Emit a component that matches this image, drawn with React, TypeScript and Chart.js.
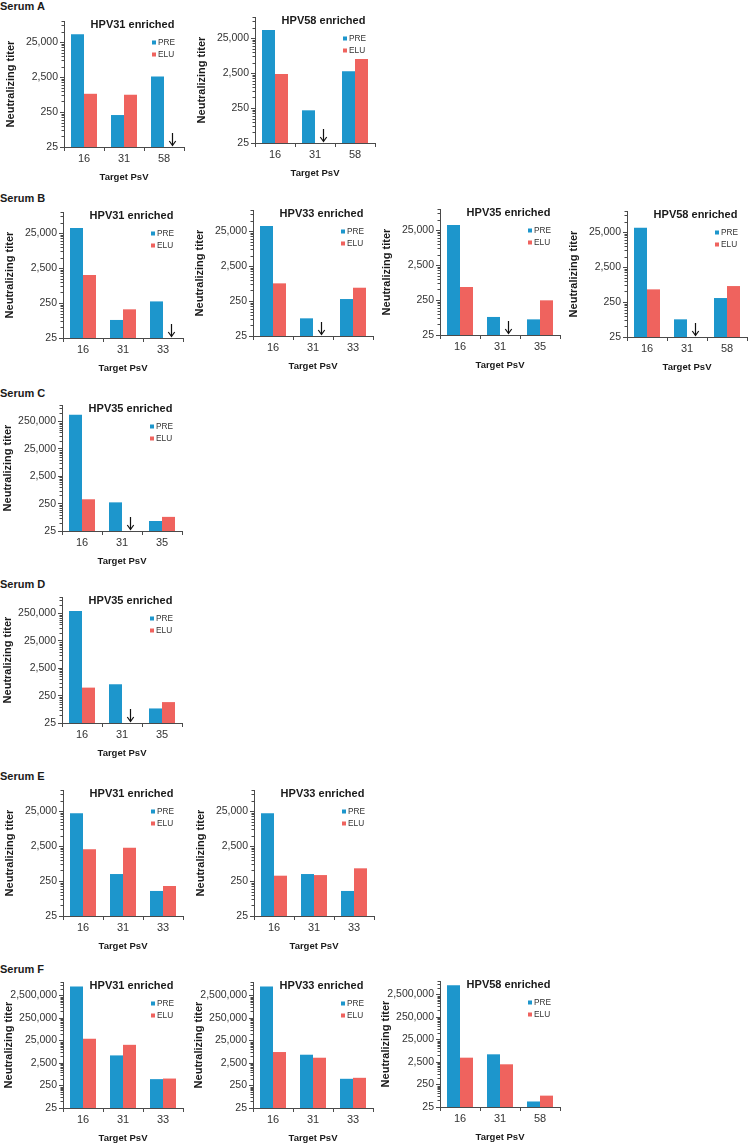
import React, { useEffect, useRef } from 'react';
import { Chart, registerables } from 'chart.js';

Chart.register(...registerables);

const FONT = '"Liberation Sans", Arial, Helvetica, sans-serif';
const PRE_COLOR = 'rgb(29,150,204)';
const ELU_COLOR = 'rgb(239,99,94)';
const AXIS_COLOR = '#4a4a4a';
const TEXT_COLOR = '#333333';
const TITLE_COLOR = '#1a1a1a';

// ---- tick labels (major ticks of the log axes) ----
const ticksLow = [25, 250, 2500, 25000];
const ticksMid = [25, 250, 2500, 25000, 250000];
const ticksHigh = [25, 250, 2500, 25000, 250000, 2500000];
const maxLow = 100000;
const maxMid = 1000000;
const maxHigh = 10000000;

const seriesNames = ['PRE', 'ELU'];
const yAxisTitle = 'Neutralizing titer';
const xAxisTitle = 'Target PsV';

// ---- data (null = below detection, shown by an arrow) ----
const aHpv31Cats = ['16', '31', '58'];
const aHpv31Pre = [41500, 205, 2600];
const aHpv31Elu = [830, 780, null];

const aHpv58Cats = ['16', '31', '58'];
const aHpv58Pre = [42500, 215, 2800];
const aHpv58Elu = [2330, null, 6300];

const bHpv31Cats = ['16', '31', '33'];
const bHpv31Pre = [34700, 82, 278];
const bHpv31Elu = [1580, 165, null];

const bHpv33Cats = ['16', '31', '33'];
const bHpv33Pre = [34700, 80, 285];
const bHpv33Elu = [800, null, 600];

const bHpv35Cats = ['16', '31', '35'];
const bHpv35Pre = [34700, 82, 70];
const bHpv35Elu = [590, null, 245];

const bHpv58Cats = ['16', '31', '58'];
const bHpv58Pre = [33000, 80, 325];
const bHpv58Elu = [575, null, 715];

const cHpv35Cats = ['16', '31', '35'];
const cHpv35Pre = [440000, 278, 58];
const cHpv35Elu = [360, null, 82];

const dHpv35Cats = ['16', '31', '35'];
const dHpv35Pre = [310000, 650, 85];
const dHpv35Elu = [490, null, 145];

const eHpv31Cats = ['16', '31', '33'];
const eHpv31Pre = [21500, 396, 130];
const eHpv31Elu = [2010, 2240, 180];

const eHpv33Cats = ['16', '31', '33'];
const eHpv33Pre = [21500, 396, 130];
const eHpv33Elu = [355, 370, 577];

const fHpv31Cats = ['16', '31', '33'];
const fHpv31Pre = [6300000, 5450, 480];
const fHpv31Elu = [29800, 16100, 510];

const fHpv33Cats = ['16', '31', '33'];
const fHpv33Pre = [6300000, 5850, 497];
const fHpv33Elu = [7700, 4300, 550];

const fHpv58Cats = ['16', '31', '58'];
const fHpv58Pre = [6500000, 5500, 44];
const fHpv58Elu = [3900, 1980, 80];

// ---- panel definitions (layout kept separate from data) ----
type PanelDef = {
  title: string;
  cats: string[];
  pre: (number | null)[];
  elu: (number | null)[];
  majors: number[];
  max: number;
  x: number; // y-axis position
  base: number; // x-axis position
  titlePad: number;
};

const panels: PanelDef[] = [
  { title: 'HPV31 enriched', cats: aHpv31Cats, pre: aHpv31Pre, elu: aHpv31Elu, majors: ticksLow, max: maxLow, x: 64, base: 147, titlePad: 4.4 },
  { title: 'HPV58 enriched', cats: aHpv58Cats, pre: aHpv58Pre, elu: aHpv58Elu, majors: ticksLow, max: maxLow, x: 255, base: 143, titlePad: 4.4 },
  { title: 'HPV31 enriched', cats: bHpv31Cats, pre: bHpv31Pre, elu: bHpv31Elu, majors: ticksLow, max: maxLow, x: 63, base: 338, titlePad: 4.4 },
  { title: 'HPV33 enriched', cats: bHpv33Cats, pre: bHpv33Pre, elu: bHpv33Elu, majors: ticksLow, max: maxLow, x: 253, base: 336, titlePad: 4.4 },
  { title: 'HPV35 enriched', cats: bHpv35Cats, pre: bHpv35Pre, elu: bHpv35Elu, majors: ticksLow, max: maxLow, x: 440, base: 335, titlePad: 4.4 },
  { title: 'HPV58 enriched', cats: bHpv58Cats, pre: bHpv58Pre, elu: bHpv58Elu, majors: ticksLow, max: maxLow, x: 627, base: 337, titlePad: 4.4 },
  { title: 'HPV35 enriched', cats: cHpv35Cats, pre: cHpv35Pre, elu: cHpv35Elu, majors: ticksMid, max: maxMid, x: 62, base: 531, titlePad: 2.9 },
  { title: 'HPV35 enriched', cats: dHpv35Cats, pre: dHpv35Pre, elu: dHpv35Elu, majors: ticksMid, max: maxMid, x: 62, base: 723, titlePad: 2.9 },
  { title: 'HPV31 enriched', cats: eHpv31Cats, pre: eHpv31Pre, elu: eHpv31Elu, majors: ticksLow, max: maxLow, x: 63, base: 916, titlePad: 4.4 },
  { title: 'HPV33 enriched', cats: eHpv33Cats, pre: eHpv33Pre, elu: eHpv33Elu, majors: ticksLow, max: maxLow, x: 254, base: 916, titlePad: 4.4 },
  { title: 'HPV31 enriched', cats: fHpv31Cats, pre: fHpv31Pre, elu: fHpv31Elu, majors: ticksHigh, max: maxHigh, x: 63, base: 1108, titlePad: 2.9 },
  { title: 'HPV33 enriched', cats: fHpv33Cats, pre: fHpv33Pre, elu: fHpv33Elu, majors: ticksHigh, max: maxHigh, x: 253, base: 1108, titlePad: 2.9 },
  { title: 'HPV58 enriched', cats: fHpv58Cats, pre: fHpv58Pre, elu: fHpv58Elu, majors: ticksHigh, max: maxHigh, x: 440, base: 1107, titlePad: 2.9 },
];

const serumLabels = [
  { text: 'Serum A', y: 6.5 },
  { text: 'Serum B', y: 198.5 },
  { text: 'Serum C', y: 393 },
  { text: 'Serum D', y: 584.5 },
  { text: 'Serum E', y: 776.5 },
  { text: 'Serum F', y: 969.5 },
];

const Y_W = 64;
const PLOT_W = 120;
const PLOT_H = 126;
const PAD_TOP = 10;
const PAD_RIGHT = 8;
const X_H = 42;
const CANVAS_W = Y_W + PLOT_W + PAD_RIGHT;
const CANVAS_H = PAD_TOP + PLOT_H + X_H;

function makeDecor(title: string, majors: number[]) {
  return {
    id: 'panelDecor',
    afterDraw(chart: any) {
      const { ctx, chartArea, scales } = chart;
      const y = scales.y;
      ctx.save();
      // minor ticks on the log axis
      ctx.strokeStyle = AXIS_COLOR;
      ctx.lineWidth = 1;
      for (const m of majors) {
        for (let k = 2; k <= 9; k++) {
          const v = m * k;
          if (v > y.max * 1.0001) break;
          const py = Math.round(y.getPixelForValue(v)) + 0.5;
          ctx.beginPath();
          ctx.moveTo(chartArea.left - 2.5, py);
          ctx.lineTo(chartArea.left, py);
          ctx.stroke();
        }
      }
      // arrows for values below detection
      ctx.strokeStyle = '#111';
      ctx.lineWidth = 1.2;
      chart.data.datasets.forEach((ds: any, di: number) => {
        const meta = chart.getDatasetMeta(di);
        ds.data.forEach((v: any, i: number) => {
          if (v === null || v === undefined) {
            const el = meta.data[i];
            const ax = Math.round(el.x) + 1.5;
            const bottom = chartArea.bottom - 1.5;
            ctx.beginPath();
            ctx.moveTo(ax, bottom - 12.5);
            ctx.lineTo(ax, bottom);
            ctx.moveTo(ax - 3.2, bottom - 4.5);
            ctx.lineTo(ax, bottom);
            ctx.lineTo(ax + 3.2, bottom - 4.5);
            ctx.stroke();
          }
        });
      });
      // panel title
      ctx.fillStyle = TITLE_COLOR;
      ctx.font = `bold 11px ${FONT}`;
      ctx.textAlign = 'center';
      ctx.textBaseline = 'middle';
      ctx.fillText(title, (chartArea.left + chartArea.right) / 2 + 8.5, chartArea.top + 3.5);
      // legend
      ctx.font = `8.3px ${FONT}`;
      ctx.textAlign = 'left';
      chart.data.datasets.forEach((ds: any, di: number) => {
        const ly = chartArea.top + 21.5 + di * 12;
        const lx = chartArea.left + 88;
        ctx.fillStyle = ds.backgroundColor;
        ctx.fillRect(lx, ly - 2, 4, 4);
        ctx.fillStyle = TEXT_COLOR;
        ctx.fillText(ds.label, lx + 6, ly + 0.5);
      });
      ctx.restore();
    },
  };
}

function Panel({ p }: { p: PanelDef }) {
  const ref = useRef<HTMLCanvasElement>(null);
  useEffect(() => {
    const chart = new Chart(ref.current as HTMLCanvasElement, {
      type: 'bar',
      data: {
        labels: p.cats,
        datasets: [
          { label: seriesNames[0], data: p.pre as any, backgroundColor: PRE_COLOR, categoryPercentage: 0.65, barPercentage: 1.0 },
          { label: seriesNames[1], data: p.elu as any, backgroundColor: ELU_COLOR, categoryPercentage: 0.65, barPercentage: 1.0 },
        ],
      },
      options: {
        animation: false,
        responsive: false,
        devicePixelRatio: 1,
        layout: { padding: { top: PAD_TOP, right: PAD_RIGHT, left: 0, bottom: 0 } },
        plugins: { legend: { display: false }, tooltip: { enabled: false } },
        scales: {
          x: {
            type: 'category',
            offset: true,
            grid: { offset: true, drawOnChartArea: false, drawTicks: true, tickLength: 4, color: AXIS_COLOR },
            border: { display: true, color: AXIS_COLOR, width: 1 },
            ticks: { color: TEXT_COLOR, font: { family: FONT, size: 11 }, padding: 1.5, maxRotation: 0 },
            title: {
              display: true,
              text: xAxisTitle,
              color: TITLE_COLOR,
              font: { family: FONT, size: 9.5, weight: 'bold' },
              padding: { top: 0, bottom: 6.3 },
            },
            afterFit: (s: any) => {
              s.height = X_H;
            },
          },
          y: {
            type: 'logarithmic',
            min: 25,
            max: p.max,
            grid: { drawOnChartArea: false, drawTicks: true, tickLength: 4, color: AXIS_COLOR },
            border: { display: true, color: AXIS_COLOR, width: 1 },
            ticks: {
              color: TEXT_COLOR,
              font: { family: FONT, size: 10.5 },
              padding: 2,
              autoSkip: false,
              callback: (v: any) => Number(v).toLocaleString('en-US'),
            },
            afterBuildTicks: (s: any) => {
              s.ticks = p.majors.map((v) => ({ value: v }));
            },
            title: {
              display: true,
              text: yAxisTitle,
              color: TITLE_COLOR,
              font: { family: FONT, size: 11, weight: 'bold' },
              padding: { top: p.titlePad, bottom: 0 },
            },
            afterFit: (s: any) => {
              s.width = Y_W;
            },
          },
        },
      } as any,
      plugins: [makeDecor(p.title, p.majors)],
    });
    return () => chart.destroy();
  }, [p]);
  return (
    <canvas
      ref={ref}
      width={CANVAS_W}
      height={CANVAS_H}
      style={{
        position: 'absolute',
        left: p.x - Y_W,
        top: p.base - PLOT_H - PAD_TOP,
        width: CANVAS_W,
        height: CANVAS_H,
      }}
    />
  );
}

export default function App() {
  return (
    <div
      style={{
        position: 'absolute',
        left: 0,
        top: 0,
        width: 749,
        height: 1145,
        background: '#ffffff',
        overflow: 'hidden',
      }}
    >
      {serumLabels.map((s) => (
        <div
          key={s.text}
          style={{
            position: 'absolute',
            left: 0,
            top: s.y - 6.5,
            height: 13,
            lineHeight: '13px',
            fontFamily: FONT,
            fontWeight: 'bold',
            fontSize: 11,
            color: TITLE_COLOR,
            whiteSpace: 'nowrap',
          }}
        >
          {s.text}
        </div>
      ))}
      {panels.map((p, i) => (
        <Panel key={i} p={p} />
      ))}
    </div>
  );
}
